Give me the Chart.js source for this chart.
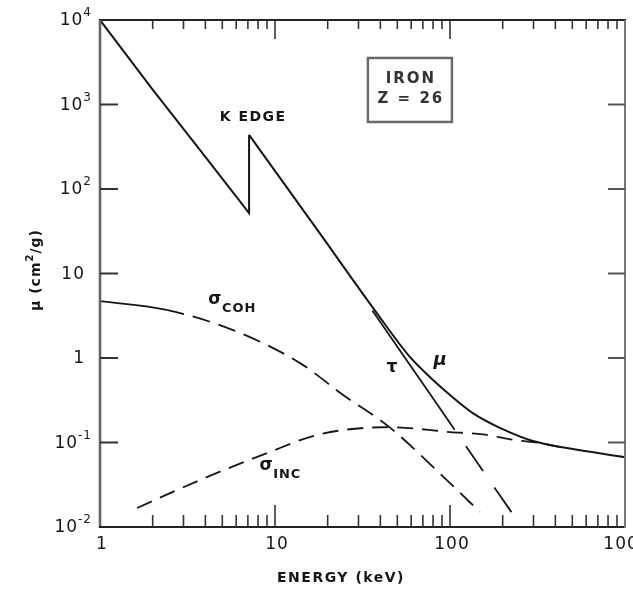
<!DOCTYPE html>
<html>
<head>
<meta charset="utf-8">
<script src="https://cdn.jsdelivr.net/npm/chart.js@4/dist/chart.umd.min.js"></script>
<style>
  html, body { margin: 0; padding: 0; background: #fff; }
  canvas { display: block; }
</style>
</head>
<body>
<canvas id="c" width="633" height="589"></canvas>
<script>
// Mass attenuation coefficients of iron (cm^2/g) against photon energy (keV)

// total attenuation, below and through the K edge
const muLowEnergy = [1, 2, 4, 7.11, 7.11];
const muLowValue  = [10000, 1500, 240, 52, 437];

// total attenuation above the K edge
const muHighEnergy = [7.11, 18, 38, 59, 80, 100, 135, 193, 298, 466, 1000];
const muHighValue  = [437, 30, 3.45, 1.03, 0.55, 0.365, 0.223, 0.149, 0.104, 0.086, 0.067];

// photoelectric absorption (tau)
const tauEnergy = [36, 60, 85, 130, 226];
const tauValue  = [3.65, 0.79, 0.277, 0.077, 0.0147];

// coherent scattering
const cohEnergy = [1, 2.4, 5.75, 13.9, 24.5, 45, 100, 148];
const cohValue  = [4.7, 3.7, 2.14, 0.87, 0.365, 0.152, 0.033, 0.0151];

// incoherent (Compton) scattering
const incEnergy = [1.63, 3.73, 9, 18, 45, 100, 154, 241, 330, 430];
const incValue  = [0.0168, 0.036, 0.075, 0.125, 0.152, 0.133, 0.125, 0.106, 0.098, 0.088];

// axis labels
const xTickValues = [1, 10, 100, 1000];
const xTickLabels = ['1', '10', '100', '1000'];
const yTickValues = [10000, 1000, 100, 10, 1, 0.1, 0.01];
const yTickBase   = ['10', '10', '10', '10', '1', '10', '10'];
const yTickExp    = ['4', '3', '2', '', '', '-1', '-2'];

const pts = (xs, ys) => xs.map((x, i) => ({ x: x, y: ys[i] }));
const INK = '#161616';
const FONT = '"DejaVu Sans", sans-serif';

const line = (data, extra) => Object.assign({
  data: data,
  showLine: true,
  borderColor: INK,
  borderWidth: 2,
  pointRadius: 0,
  fill: false
}, extra || {});

// frame, tick marks, tick labels, titles and curve labels
const decorations = {
  id: 'decorations',
  afterDatasetsDraw(chart) {
    const ctx = chart.ctx;
    const xs = chart.scales.x, ys = chart.scales.y;
    const a = chart.chartArea;
    ctx.save();
    ctx.lineCap = 'butt';

    // frame
    const seg = (x1, y1, x2, y2, w, c) => {
      ctx.beginPath(); ctx.strokeStyle = c; ctx.lineWidth = w;
      ctx.moveTo(x1, y1); ctx.lineTo(x2, y2); ctx.stroke();
    };
    seg(a.left - 1, a.top, a.right + 1, a.top, 2.2, '#222');
    seg(a.left, a.top, a.left, a.bottom + 1, 2.6, '#666');
    seg(a.left - 1, a.bottom, a.right + 1, a.bottom, 2.2, '#222');
    seg(a.right, a.top, a.right, a.bottom + 1, 2, '#777');

    // log minor/major ticks on top and bottom
    for (let d = 1; d <= 100; d *= 10) {
      for (let m = 2; m <= 10; m++) {
        const v = d * m;
        if (v >= 1000) continue;
        const px = xs.getPixelForValue(v);
        const major = (m === 10);
        seg(px, a.top, px, a.top + (major ? 19 : 9), 1.6, '#333');
        seg(px, a.bottom, px, a.bottom - (major ? 22 : 12), 1.6, '#333');
      }
    }
    // decade ticks on left and right
    yTickValues.forEach(v => {
      if (v === 10000 || v === 0.01) return;
      const py = ys.getPixelForValue(v);
      seg(a.left, py, a.left + 18, py, 2, '#333');
      seg(a.right, py, a.right - 17, py, 2, '#555');
    });

    ctx.fillStyle = INK;
    ctx.textBaseline = 'middle';

    // y tick labels
    yTickValues.forEach((v, i) => {
      const py = ys.getPixelForValue(v);
      const base = yTickBase[i], exp = yTickExp[i];
      ctx.font = '17px ' + FONT;
      ctx.letterSpacing = '1px';
      const wb = ctx.measureText(base).width;
      ctx.font = '12px ' + FONT;
      const we = exp ? ctx.measureText(exp).width : 0;
      const right = exp ? a.left - 8 : a.left - 15;
      ctx.textAlign = 'left';
      ctx.font = '17px ' + FONT;
      ctx.fillText(base, right - we - wb, py + 1);
      if (exp) {
        ctx.font = '12px ' + FONT;
        ctx.fillText(exp, right - we, py - 7);
      }
    });

    // x tick labels
    ctx.font = '17px ' + FONT;
    ctx.letterSpacing = '1px';
    ctx.textAlign = 'center';
    xTickValues.forEach((v, i) => {
      ctx.fillText(xTickLabels[i], xs.getPixelForValue(v) + 2, a.bottom + 18);
    });

    // x axis title
    ctx.font = 'bold 14px ' + FONT;
    ctx.letterSpacing = '1.5px';
    ctx.fillText('ENERGY (keV)', 341, a.bottom + 51);

    // y axis title, rotated
    ctx.save();
    ctx.translate(36, 270);
    ctx.rotate(-Math.PI / 2);
    ctx.textAlign = 'left';
    ctx.letterSpacing = '1px';
    const p1 = '\u03bc (cm', p2 = '2', p3 = '/g)';
    ctx.font = 'bold 14px ' + FONT;
    const w1 = ctx.measureText(p1).width, w3 = ctx.measureText(p3).width;
    ctx.font = 'bold 10px ' + FONT;
    const w2 = ctx.measureText(p2).width;
    let sx = -(w1 + w2 + w3) / 2;
    ctx.font = 'bold 14px ' + FONT;
    ctx.fillText(p1, sx, 0); sx += w1;
    ctx.font = 'bold 10px ' + FONT;
    ctx.fillText(p2, sx, -6); sx += w2;
    ctx.font = 'bold 14px ' + FONT;
    ctx.fillText(p3, sx, 0);
    ctx.restore();

    // element box
    const bx = xs.getPixelForValue(59), by = ys.getPixelForValue(1486);
    ctx.strokeStyle = '#6a6a6a';
    ctx.lineWidth = 2.5;
    ctx.strokeRect(bx - 42, by - 32, 84, 64);
    ctx.font = 'bold 15px ' + FONT;
    ctx.letterSpacing = '2px';
    ctx.textAlign = 'center';
    ctx.fillStyle = '#333';
    ctx.fillText('IRON', bx + 1, by - 11);
    ctx.fillText('Z = 26', bx + 1, by + 9);

    // curve labels
    ctx.fillStyle = INK;
    ctx.font = 'bold 14px ' + FONT;
    ctx.letterSpacing = '1.5px';
    ctx.fillText('K EDGE', xs.getPixelForValue(7.5), ys.getPixelForValue(710));

    const sigma = (e, v, sub) => {
      const px = xs.getPixelForValue(e), py = ys.getPixelForValue(v);
      ctx.textAlign = 'center';
      ctx.font = 'bold 17px ' + FONT;
      ctx.letterSpacing = '0px';
      ctx.fillText('\u03c3', px, py);
      ctx.textAlign = 'left';
      ctx.font = 'bold 13px ' + FONT;
      ctx.letterSpacing = '1px';
      ctx.fillText(sub, px + 7, py + 9);
    };
    sigma(4.54, 4.85, 'COH');
    sigma(8.9, 0.0527, 'INC');

    ctx.textAlign = 'center';
    ctx.letterSpacing = '0px';
    ctx.font = 'bold 17px ' + FONT;
    ctx.fillText('\u03c4', xs.getPixelForValue(46.6), ys.getPixelForValue(0.78));
    ctx.font = 'italic bold 18px ' + FONT;
    ctx.fillText('\u03bc', xs.getPixelForValue(87.7), ys.getPixelForValue(0.946));

    ctx.restore();
  }
};

new Chart(document.getElementById('c'), {
  type: 'scatter',
  data: {
    datasets: [
      line(pts(muLowEnergy, muLowValue)),
      line(pts(muHighEnergy, muHighValue), { cubicInterpolationMode: 'monotone' }),
      line(pts(tauEnergy, tauValue), {
        borderWidth: 1.8,
        segment: { borderDash: c => c.p0DataIndex >= 2 ? [30, 20] : undefined }
      }),
      line(pts(cohEnergy, cohValue), {
        cubicInterpolationMode: 'monotone',
        borderWidth: 1.8,
        segment: { borderDash: c => c.p0DataIndex >= 1 ? [18, 9] : undefined }
      }),
      line(pts(incEnergy, incValue), {
        cubicInterpolationMode: 'monotone',
        borderWidth: 1.8,
        borderDash: [16, 9]
      })
    ]
  },
  options: {
    responsive: false,
    animation: false,
    layout: { padding: { left: 100, right: 8, top: 20, bottom: 62 } },
    plugins: { legend: { display: false }, tooltip: { enabled: false } },
    scales: {
      x: { type: 'logarithmic', min: 1, max: 1000, display: false },
      y: { type: 'logarithmic', min: 0.01, max: 10000, display: false }
    }
  },
  plugins: [decorations]
});
</script>
</body>
</html>
